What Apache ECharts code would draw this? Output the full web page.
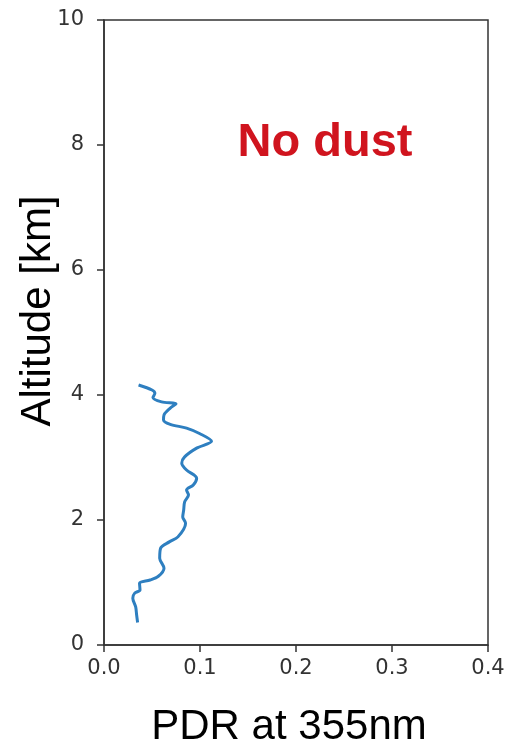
<!DOCTYPE html>
<html>
<head>
<meta charset="utf-8">
<script src="https://cdn.jsdelivr.net/npm/echarts@6/dist/echarts.min.js"></script>
<style>
  html, body { margin: 0; padding: 0; background: #fff; }
  #chart { width: 509px; height: 748px; }
</style>
</head>
<body>
<div id="chart"></div>
<script>
// profile, top to bottom
const altitude = [4.16, 4.08, 4.03, 3.96, 3.89, 3.86, 3.79, 3.68, 3.60, 3.53, 3.47, 3.38, 3.26,
  3.15, 3.01, 2.91, 2.80, 2.67, 2.56, 2.48, 2.40, 2.29, 2.16, 2.05, 1.95, 1.73, 1.65, 1.55,
  1.39, 1.23, 1.10, 1.04, 0.99, 0.88, 0.83, 0.75, 0.61, 0.48, 0.36]
const pdr = [0.036, 0.050, 0.053, 0.051, 0.060, 0.075, 0.069, 0.0625, 0.062, 0.069, 0.086, 0.100, 0.112,
  0.0965, 0.084, 0.081, 0.086, 0.0965, 0.093, 0.086, 0.088, 0.084, 0.083, 0.082, 0.085, 0.077, 0.068, 0.059,
  0.058, 0.0625, 0.0566, 0.048, 0.037, 0.0375, 0.032, 0.030, 0.033, 0.034, 0.035]

const xTicks = [0, 0.1, 0.2, 0.3, 0.4]
const yTicks = [0, 2, 4, 6, 8, 10]

const chart = echarts.init(document.getElementById('chart'))

const tickFont = {
  fontFamily: 'DejaVu Sans',
  fontSize: 21,
  color: '#333',
}

const option = {
  backgroundColor: '#fff',
  animation: false,
  grid: {
    left: 104,
    right: 21,
    top: 20,
    bottom: 103,
    show: true,
    borderColor: '#333',
    borderWidth: 1.5,
  },
  xAxis: {
    type: 'value',
    min: xTicks[0],
    max: xTicks[xTicks.length - 1],
    interval: 0.1,
    axisLine: { show: true, lineStyle: { color: '#333', width: 1.5 } },
    axisTick: { show: true, length: 7, lineStyle: { color: '#333', width: 1.5 } },
    axisLabel: { ...tickFont, margin: 13, formatter: v => v.toFixed(1) },
    splitLine: { show: false },
  },
  yAxis: {
    type: 'value',
    min: yTicks[0],
    max: yTicks[yTicks.length - 1],
    interval: 2,
    axisLine: { show: true, lineStyle: { color: '#333', width: 1.5 } },
    axisTick: { show: true, length: 7, lineStyle: { color: '#333', width: 1.5 } },
    axisLabel: { ...tickFont, margin: 20 },
    splitLine: { show: false },
  },
  graphic: [
    {
      type: 'text',
      x: 38,
      y: 311,
      rotation: Math.PI / 2,
      style: {
        text: 'Altitude [km]',
        fontFamily: 'Liberation Sans',
        fontSize: 42,
        fill: '#000',
        align: 'center',
        verticalAlign: 'middle',
      },
    },
    {
      type: 'text',
      x: 289,
      y: 727,
      style: {
        text: 'PDR at 355nm',
        fontFamily: 'Liberation Sans',
        fontSize: 42,
        fill: '#000',
        align: 'center',
        verticalAlign: 'middle',
      },
    },
    {
      type: 'text',
      x: 325,
      y: 143,
      style: {
        text: 'No dust',
        fontFamily: 'Liberation Sans',
        fontWeight: 'bold',
        fontSize: 47,
        fill: '#d0141e',
        align: 'center',
        verticalAlign: 'middle',
      },
    },
  ],
  series: [
    {
      type: 'line',
      data: pdr.map((p, i) => [p, altitude[i]]),
      showSymbol: false,
      smooth: 0.3,
      lineStyle: { color: '#2e7fc0', width: 3 },
    },
  ],
}

chart.setOption(option)
</script>
</body>
</html>
